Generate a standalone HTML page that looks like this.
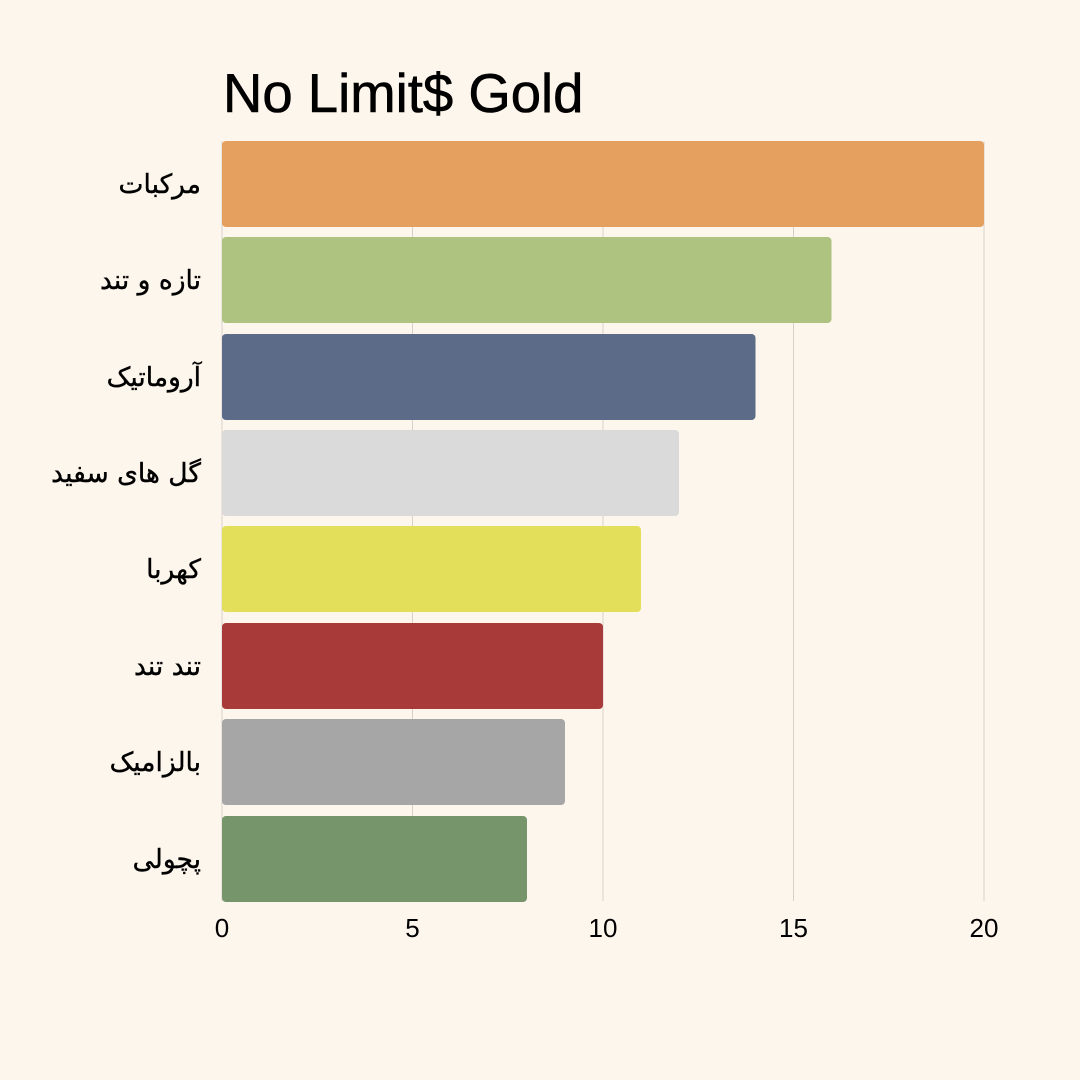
<!DOCTYPE html>
<html><head><meta charset="utf-8"><style>
html,body{margin:0;padding:0;background:#fdf6ec;}
svg{display:block}
</style></head><body>
<svg width="1080" height="1080" xmlns="http://www.w3.org/2000/svg">
<rect width="1080" height="1080" fill="#fdf6ec"/>
<text x="223" y="112" font-family="Liberation Sans, sans-serif" font-size="54.5" fill="#000" stroke="#000" stroke-width="0.6">No Limit$ Gold</text>
<g stroke="#d6d2cb" stroke-width="1">
<line x1="412.5" y1="141" x2="412.5" y2="901"/>
<line x1="603" y1="141" x2="603" y2="901"/>
<line x1="793.5" y1="141" x2="793.5" y2="901"/>
<line x1="984" y1="141" x2="984" y2="901"/>
<line x1="222" y1="141" x2="222" y2="901"/>
</g>
<g>
<rect x="222" y="141" width="762" height="86" rx="4" fill="#e59f5e"/>
<rect x="222" y="237" width="609.5" height="86" rx="4" fill="#afc380"/>
<rect x="222" y="334" width="533.5" height="86" rx="4" fill="#5c6b87"/>
<rect x="222" y="430" width="457" height="86" rx="4" fill="#dadada"/>
<rect x="222" y="526" width="419" height="86" rx="4" fill="#e3df5a"/>
<rect x="222" y="623" width="381" height="86" rx="4" fill="#a83a3a"/>
<rect x="222" y="719" width="343" height="86" rx="4" fill="#a6a6a6"/>
<rect x="222" y="816" width="305" height="86" rx="4" fill="#76956a"/>
</g>
<g font-family="DejaVu Sans, sans-serif" font-size="26.5" fill="#000" stroke="#000" stroke-width="0.4" text-anchor="end">
<text x="201" y="193">مرکبات</text>
<text x="201" y="289">تازه و تند</text>
<text x="201" y="386">آروماتیک</text>
<text x="201" y="482">گل های سفید</text>
<text x="201" y="578">کهربا</text>
<text x="201" y="675">تند تند</text>
<text x="201" y="771">بالزامیک</text>
<text x="201" y="868">پچولی</text>
</g>
<g font-family="Liberation Sans, sans-serif" font-size="26" fill="#000" text-anchor="middle">
<text x="222" y="937">0</text>
<text x="412.5" y="937">5</text>
<text x="603" y="937">10</text>
<text x="793.5" y="937">15</text>
<text x="984" y="937">20</text>
</g>
</svg>
</body></html>
